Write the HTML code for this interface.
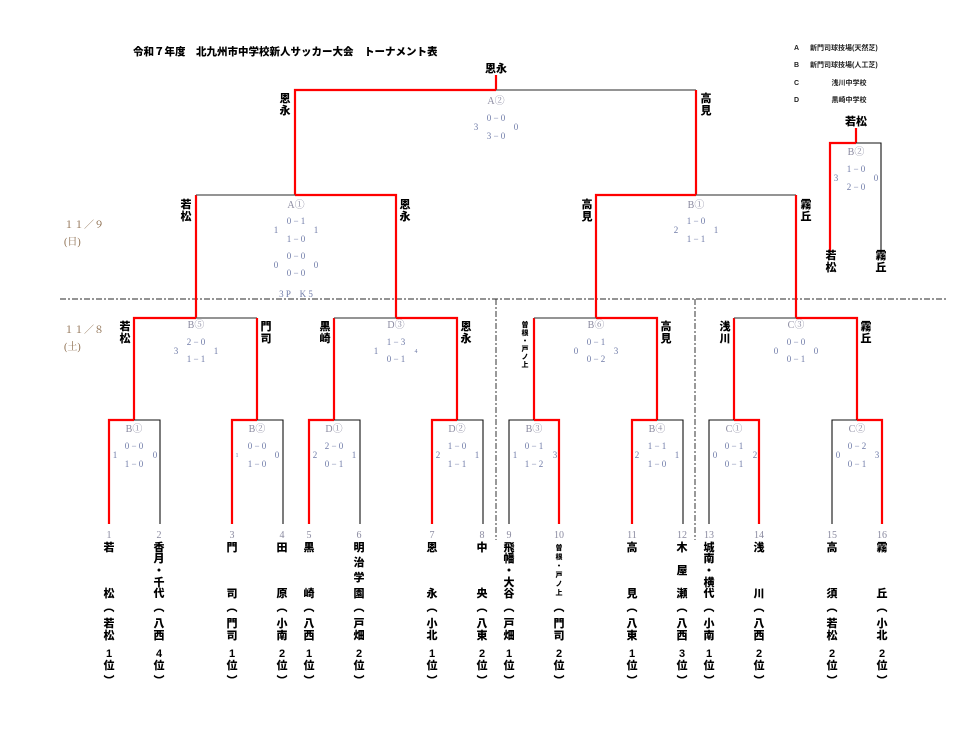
<!DOCTYPE html>
<html><head><meta charset="utf-8"><style>
html,body{margin:0;padding:0;background:#fff;}
svg{display:block;}
.t{font-family:"Liberation Sans","Noto Sans CJK JP",sans-serif;font-weight:900;fill:#000;}
.n{font-family:"Liberation Sans","Noto Sans CJK JP",sans-serif;font-weight:900;font-size:11px;fill:#000;text-anchor:middle;}
.s{font-family:"Liberation Serif","Noto Serif CJK SC",serif;font-size:9px;fill:#6f7ba8;text-anchor:middle;}
.m{font-family:"Liberation Serif","Noto Serif CJK SC",serif;font-size:10px;fill:#8a8aa0;text-anchor:middle;}
.d{font-family:"Liberation Serif","Noto Serif CJK SC",serif;font-size:10px;fill:#8a6a4a;}
.r{stroke:#f00;stroke-width:2.2;fill:none;}
.g{stroke:#555;stroke-width:1.3;fill:none;}
.k{stroke:#111;stroke-width:1.1;fill:none;}
.lg{font-family:"Liberation Sans","Noto Sans CJK JP",sans-serif;font-size:7px;fill:#222;font-weight:700;}
</style></head><body>
<svg width="980" height="729" viewBox="0 0 980 729" xmlns="http://www.w3.org/2000/svg">
<text class="t" x="133" y="55" font-size="10.5">令和７年度　北九州市中学校新人サッカー大会　トーナメント表</text>
<text class="lg" x="794" y="50">A</text><text class="lg" x="810" y="50">新門司球技場(天然芝)</text>
<text class="lg" x="794" y="67">B</text><text class="lg" x="810" y="67">新門司球技場(人工芝)</text>
<text class="lg" x="794" y="85">C</text><text class="lg" x="849" y="85" text-anchor="middle">浅川中学校</text>
<text class="lg" x="794" y="102">D</text><text class="lg" x="849" y="102" text-anchor="middle">黒崎中学校</text>

<text class="d" x="64" y="228">１１／９</text><text class="d" x="64" y="245">(日)</text>
<text class="d" x="64" y="333">１１／８</text><text class="d" x="64" y="350">(土)</text>

<line x1="60" y1="299" x2="946" y2="299" stroke="#555" stroke-width="1.2" stroke-dasharray="6,2,2,2"/>
<line x1="496" y1="299" x2="496" y2="540" stroke="#333" stroke-width="1" stroke-dasharray="6,2,2,2"/>
<line x1="695" y1="299" x2="695" y2="540" stroke="#333" stroke-width="1" stroke-dasharray="6,2,2,2"/>

<line class="r" x1="496" y1="75" x2="496" y2="90"/>
<polyline class="r" points="295,195 295,90 496,90"/>
<line class="g" x1="496" y1="90" x2="696" y2="90"/>
<line class="r" x1="696" y1="90" x2="696" y2="195"/>
<text class="t" x="496" y="72" font-size="11" text-anchor="middle">恩永</text>
<text class="n" x="285" y="102">恩</text><text class="n" x="285" y="114">永</text>
<text class="n" x="706" y="102">高</text><text class="n" x="706" y="114">見</text>
<text class="m" x="496" y="104">A②</text>
<text class="s" x="496" y="121">0 − 0</text><text class="s" x="496" y="139">3 − 0</text>
<text class="s" x="476" y="130">3</text><text class="s" x="516" y="130">0</text>

<line class="r" x1="856" y1="128" x2="856" y2="143"/>
<polyline class="r" points="830,252 830,143 856,143"/>
<polyline class="k" points="856,143 881,143 881,252"/>
<text class="t" x="856" y="125" font-size="11" text-anchor="middle">若松</text>
<text class="m" x="856" y="155">B②</text>
<text class="s" x="856" y="172">1 − 0</text><text class="s" x="856" y="190">2 − 0</text>
<text class="s" x="836" y="181">3</text><text class="s" x="876" y="181">0</text>
<text class="n" x="831" y="259">若</text><text class="n" x="831" y="271">松</text>
<text class="n" x="881" y="259">霧</text><text class="n" x="881" y="271">丘</text>

<polyline class="r" points="196,318 196,195"/>
<line class="g" x1="196" y1="195" x2="295" y2="195"/>
<polyline class="r" points="295,195 396,195 396,318"/>
<text class="n" x="186" y="208">若</text><text class="n" x="186" y="220">松</text>
<text class="n" x="405" y="208">恩</text><text class="n" x="405" y="220">永</text>
<text class="m" x="296" y="208">A①</text>
<text class="s" x="296" y="224">0 − 1</text><text class="s" x="296" y="242">1 − 0</text>
<text class="s" x="276" y="233">1</text><text class="s" x="316" y="233">1</text>
<text class="s" x="296" y="259">0 − 0</text><text class="s" x="296" y="276">0 − 0</text>
<text class="s" x="276" y="268">0</text><text class="s" x="316" y="268">0</text>
<text class="s" x="296" y="297">3 P　K 5</text>

<polyline class="r" points="596,318 596,195 696,195"/>
<polyline class="g" points="696,195 796,195"/>
<line class="r" x1="796" y1="195" x2="796" y2="318"/>
<text class="n" x="587" y="208">高</text><text class="n" x="587" y="220">見</text>
<text class="n" x="806" y="208">霧</text><text class="n" x="806" y="220">丘</text>
<text class="m" x="696" y="208">B①</text>
<text class="s" x="696" y="224">1 − 0</text><text class="s" x="696" y="242">1 − 1</text>
<text class="s" x="676" y="233">2</text><text class="s" x="716" y="233">1</text>

<polyline class="r" points="134,420 134,318 196,318"/><line class="g" x1="196" y1="318" x2="257" y2="318"/><line class="r" x1="257" y1="318" x2="257" y2="420"/>
<line class="r" x1="334" y1="318" x2="334" y2="420"/><line class="g" x1="334" y1="318" x2="396" y2="318"/><polyline class="r" points="396,318 457,318 457,420"/>
<line class="r" x1="534" y1="318" x2="534" y2="420"/><line class="g" x1="534" y1="318" x2="596" y2="318"/><polyline class="r" points="596,318 657,318 657,420"/>
<line class="r" x1="734" y1="318" x2="734" y2="420"/><line class="g" x1="734" y1="318" x2="796" y2="318"/><polyline class="r" points="796,318 857,318 857,420"/>
<text class="n" x="125" y="330">若</text><text class="n" x="125" y="342">松</text>
<text class="n" x="266" y="330">門</text><text class="n" x="266" y="342">司</text>
<text class="n" x="325" y="330">黒</text><text class="n" x="325" y="342">崎</text>
<text class="n" x="466" y="330">恩</text><text class="n" x="466" y="342">永</text>
<text class="n" x="525" y="327" style="font-size:7px">曽</text><text class="n" x="525" y="335" style="font-size:7px">根</text><text class="n" x="525" y="343" style="font-size:7px">・</text><text class="n" x="525" y="351" style="font-size:7px">戸</text><text class="n" x="525" y="359" style="font-size:7px">ノ</text><text class="n" x="525" y="367" style="font-size:7px">上</text>
<text class="n" x="666" y="330">高</text><text class="n" x="666" y="342">見</text>
<text class="n" x="725" y="330">浅</text><text class="n" x="725" y="342">川</text>
<text class="n" x="866" y="330">霧</text><text class="n" x="866" y="342">丘</text>

<text class="m" x="196" y="328">B⑤</text><text class="s" x="196" y="345">2 − 0</text><text class="s" x="196" y="362">1 − 1</text><text class="s" x="176" y="354">3</text><text class="s" x="216" y="354">1</text>
<text class="m" x="396" y="328">D③</text><text class="s" x="396" y="345">1 − 3</text><text class="s" x="396" y="362">0 − 1</text><text class="s" x="376" y="354">1</text><text class="s" x="416" y="353" style="font-size:6px">4</text>
<text class="m" x="596" y="328">B⑥</text><text class="s" x="596" y="345">0 − 1</text><text class="s" x="596" y="362">0 − 2</text><text class="s" x="576" y="354">0</text><text class="s" x="616" y="354">3</text>
<text class="m" x="796" y="328">C③</text><text class="s" x="796" y="345">0 − 0</text><text class="s" x="796" y="362">0 − 1</text><text class="s" x="776" y="354">0</text><text class="s" x="816" y="354">0</text>

<polyline class="r" points="109,524 109,420 134,420"/><polyline class="k" points="134,420 160,420 160,524"/>
<polyline class="r" points="232,524 232,420 257,420"/><polyline class="k" points="257,420 283,420 283,524"/>
<polyline class="r" points="309,524 309,420 334,420"/><polyline class="k" points="334,420 360,420 360,524"/>
<polyline class="r" points="432,524 432,420 457,420"/><polyline class="k" points="457,420 483,420 483,524"/>
<polyline class="k" points="509,524 509,420 534,420"/><polyline class="r" points="534,420 559,420 559,524"/>
<polyline class="r" points="632,524 632,420 657,420"/><polyline class="k" points="657,420 683,420 683,524"/>
<polyline class="k" points="709,524 709,420 734,420"/><polyline class="r" points="734,420 759,420 759,524"/>
<polyline class="k" points="832,524 832,420 857,420"/><polyline class="r" points="857,420 882,420 882,524"/>

<text class="m" x="134" y="432">B①</text><text class="s" x="134" y="449">0 − 0</text><text class="s" x="134" y="467">1 − 0</text><text class="s" x="115" y="458">1</text><text class="s" x="155" y="458">0</text>
<text class="m" x="257" y="432">B②</text><text class="s" x="257" y="449">0 − 0</text><text class="s" x="257" y="467">1 − 0</text><text class="s" x="237" y="457" style="font-size:6px">1</text><text class="s" x="277" y="458">0</text>
<text class="m" x="334" y="432">D①</text><text class="s" x="334" y="449">2 − 0</text><text class="s" x="334" y="467">0 − 1</text><text class="s" x="315" y="458">2</text><text class="s" x="354" y="458">1</text>
<text class="m" x="457" y="432">D②</text><text class="s" x="457" y="449">1 − 0</text><text class="s" x="457" y="467">1 − 1</text><text class="s" x="438" y="458">2</text><text class="s" x="477" y="458">1</text>
<text class="m" x="534" y="432">B③</text><text class="s" x="534" y="449">0 − 1</text><text class="s" x="534" y="467">1 − 2</text><text class="s" x="515" y="458">1</text><text class="s" x="555" y="458">3</text>
<text class="m" x="657" y="432">B④</text><text class="s" x="657" y="449">1 − 1</text><text class="s" x="657" y="467">1 − 0</text><text class="s" x="637" y="458">2</text><text class="s" x="677" y="458">1</text>
<text class="m" x="734" y="432">C①</text><text class="s" x="734" y="449">0 − 1</text><text class="s" x="734" y="467">0 − 1</text><text class="s" x="715" y="458">0</text><text class="s" x="755" y="458">2</text>
<text class="m" x="857" y="432">C②</text><text class="s" x="857" y="449">0 − 2</text><text class="s" x="857" y="467">0 − 1</text><text class="s" x="838" y="458">0</text><text class="s" x="877" y="458">3</text>

<text class="m" x="109" y="538">1</text><text class="m" x="159" y="538">2</text><text class="m" x="232" y="538">3</text><text class="m" x="282" y="538">4</text>
<text class="m" x="309" y="538">5</text><text class="m" x="359" y="538">6</text><text class="m" x="432" y="538">7</text><text class="m" x="482" y="538">8</text>
<text class="m" x="509" y="538">9</text><text class="m" x="559" y="538">10</text><text class="m" x="632" y="538">11</text><text class="m" x="682" y="538">12</text>
<text class="m" x="709" y="538">13</text><text class="m" x="759" y="538">14</text><text class="m" x="832" y="538">15</text><text class="m" x="882" y="538">16</text>

<text class="n" x="109" y="551">若</text><text class="n" x="109" y="597">松</text><text class="n" x="109" y="611">︵</text><text class="n" x="109" y="627">若</text><text class="n" x="109" y="639">松</text><text class="n" x="109" y="657">1</text><text class="n" x="109" y="669">位</text><text class="n" x="109" y="684">︶</text>

<text class="n" x="159" y="551">香</text><text class="n" x="159" y="562">月</text><text class="n" x="159" y="574">・</text><text class="n" x="159" y="586">千</text><text class="n" x="159" y="597">代</text><text class="n" x="159" y="611">︵</text><text class="n" x="159" y="627">八</text><text class="n" x="159" y="639">西</text><text class="n" x="159" y="657">4</text><text class="n" x="159" y="669">位</text><text class="n" x="159" y="684">︶</text>

<text class="n" x="232" y="551">門</text><text class="n" x="232" y="597">司</text><text class="n" x="232" y="611">︵</text><text class="n" x="232" y="627">門</text><text class="n" x="232" y="639">司</text><text class="n" x="232" y="657">1</text><text class="n" x="232" y="669">位</text><text class="n" x="232" y="684">︶</text>

<text class="n" x="282" y="551">田</text><text class="n" x="282" y="597">原</text><text class="n" x="282" y="611">︵</text><text class="n" x="282" y="627">小</text><text class="n" x="282" y="639">南</text><text class="n" x="282" y="657">2</text><text class="n" x="282" y="669">位</text><text class="n" x="282" y="684">︶</text>

<text class="n" x="309" y="551">黒</text><text class="n" x="309" y="597">崎</text><text class="n" x="309" y="611">︵</text><text class="n" x="309" y="627">八</text><text class="n" x="309" y="639">西</text><text class="n" x="309" y="657">1</text><text class="n" x="309" y="669">位</text><text class="n" x="309" y="684">︶</text>

<text class="n" x="359" y="551">明</text><text class="n" x="359" y="566">治</text><text class="n" x="359" y="581">学</text><text class="n" x="359" y="597">園</text><text class="n" x="359" y="611">︵</text><text class="n" x="359" y="627">戸</text><text class="n" x="359" y="639">畑</text><text class="n" x="359" y="657">2</text><text class="n" x="359" y="669">位</text><text class="n" x="359" y="684">︶</text>

<text class="n" x="432" y="551">恩</text><text class="n" x="432" y="597">永</text><text class="n" x="432" y="611">︵</text><text class="n" x="432" y="627">小</text><text class="n" x="432" y="639">北</text><text class="n" x="432" y="657">1</text><text class="n" x="432" y="669">位</text><text class="n" x="432" y="684">︶</text>

<text class="n" x="482" y="551">中</text><text class="n" x="482" y="597">央</text><text class="n" x="482" y="611">︵</text><text class="n" x="482" y="627">八</text><text class="n" x="482" y="639">東</text><text class="n" x="482" y="657">2</text><text class="n" x="482" y="669">位</text><text class="n" x="482" y="684">︶</text>

<text class="n" x="509" y="551">飛</text><text class="n" x="509" y="562">幡</text><text class="n" x="509" y="574">・</text><text class="n" x="509" y="586">大</text><text class="n" x="509" y="597">谷</text><text class="n" x="509" y="611">︵</text><text class="n" x="509" y="627">戸</text><text class="n" x="509" y="639">畑</text><text class="n" x="509" y="657">1</text><text class="n" x="509" y="669">位</text><text class="n" x="509" y="684">︶</text>

<text class="n" x="559" y="550" style="font-size:7px">曽</text><text class="n" x="559" y="559" style="font-size:7px">根</text><text class="n" x="559" y="568" style="font-size:7px">・</text><text class="n" x="559" y="577" style="font-size:7px">戸</text><text class="n" x="559" y="586" style="font-size:7px">ノ</text><text class="n" x="559" y="595" style="font-size:7px">上</text><text class="n" x="559" y="611">︵</text><text class="n" x="559" y="627">門</text><text class="n" x="559" y="639">司</text><text class="n" x="559" y="657">2</text><text class="n" x="559" y="669">位</text><text class="n" x="559" y="684">︶</text>

<text class="n" x="632" y="551">高</text><text class="n" x="632" y="597">見</text><text class="n" x="632" y="611">︵</text><text class="n" x="632" y="627">八</text><text class="n" x="632" y="639">東</text><text class="n" x="632" y="657">1</text><text class="n" x="632" y="669">位</text><text class="n" x="632" y="684">︶</text>

<text class="n" x="682" y="551">木</text><text class="n" x="682" y="574">屋</text><text class="n" x="682" y="597">瀬</text><text class="n" x="682" y="611">︵</text><text class="n" x="682" y="627">八</text><text class="n" x="682" y="639">西</text><text class="n" x="682" y="657">3</text><text class="n" x="682" y="669">位</text><text class="n" x="682" y="684">︶</text>

<text class="n" x="709" y="551">城</text><text class="n" x="709" y="562">南</text><text class="n" x="709" y="574">・</text><text class="n" x="709" y="586">横</text><text class="n" x="709" y="597">代</text><text class="n" x="709" y="611">︵</text><text class="n" x="709" y="627">小</text><text class="n" x="709" y="639">南</text><text class="n" x="709" y="657">1</text><text class="n" x="709" y="669">位</text><text class="n" x="709" y="684">︶</text>

<text class="n" x="759" y="551">浅</text><text class="n" x="759" y="597">川</text><text class="n" x="759" y="611">︵</text><text class="n" x="759" y="627">八</text><text class="n" x="759" y="639">西</text><text class="n" x="759" y="657">2</text><text class="n" x="759" y="669">位</text><text class="n" x="759" y="684">︶</text>

<text class="n" x="832" y="551">高</text><text class="n" x="832" y="597">須</text><text class="n" x="832" y="611">︵</text><text class="n" x="832" y="627">若</text><text class="n" x="832" y="639">松</text><text class="n" x="832" y="657">2</text><text class="n" x="832" y="669">位</text><text class="n" x="832" y="684">︶</text>

<text class="n" x="882" y="551">霧</text><text class="n" x="882" y="597">丘</text><text class="n" x="882" y="611">︵</text><text class="n" x="882" y="627">小</text><text class="n" x="882" y="639">北</text><text class="n" x="882" y="657">2</text><text class="n" x="882" y="669">位</text><text class="n" x="882" y="684">︶</text>
</svg>
</body></html>
